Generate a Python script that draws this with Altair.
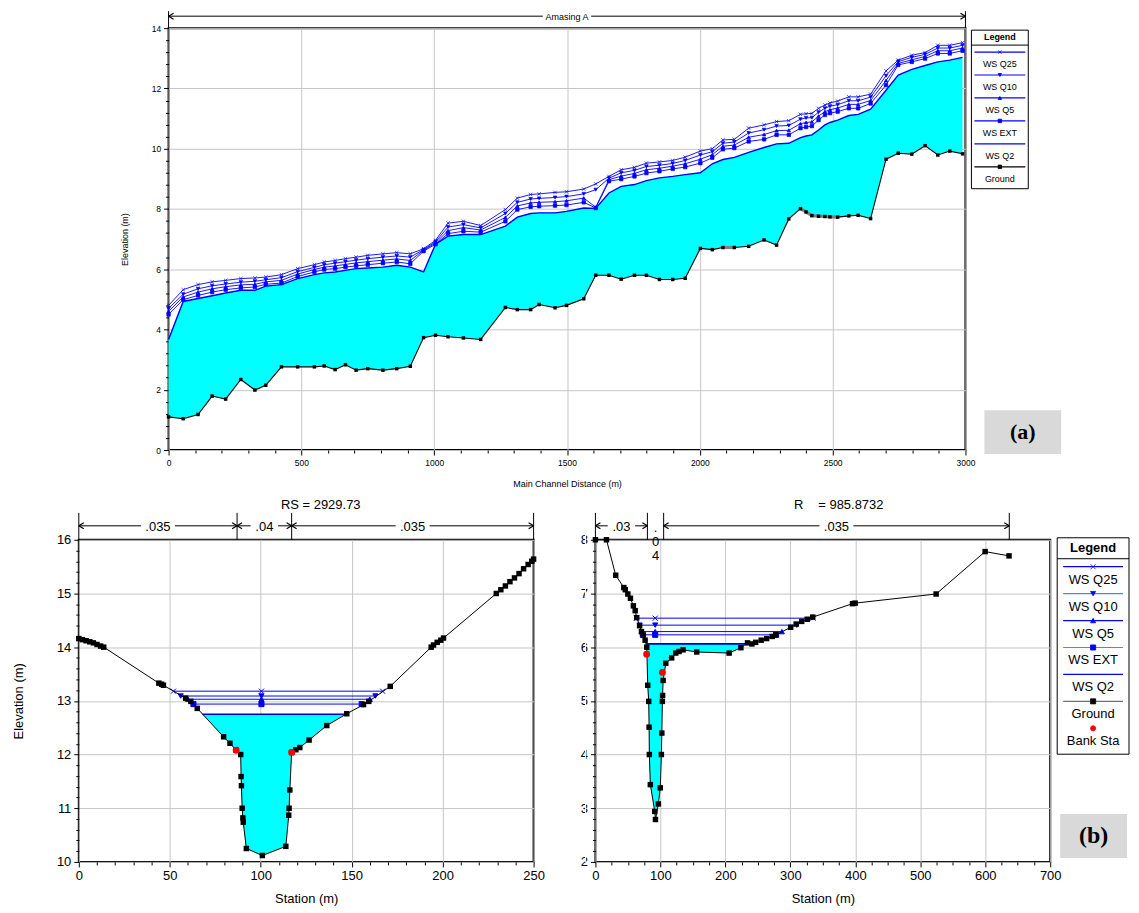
import altair as alt
import pandas as pd

# ============================ DATA ============================
PROFILES = ["WS Q25", "WS Q10", "WS Q5", "WS EXT", "WS Q2"]

# ---- (a) longitudinal profile "Amasing A" ----
PROFILE_TITLE = "Amasing A"
PROFILE_STATION = [0, 55, 111, 164, 215, 272, 325, 366, 425, 486,
                   549, 586, 627, 666, 706, 750, 807, 859, 910, 960,
                   1005, 1052, 1110, 1175, 1268, 1313, 1363, 1395, 1455, 1498,
                   1563, 1608, 1658, 1704, 1754, 1799, 1848, 1898, 1945, 2002,
                   2047, 2087, 2130, 2184, 2242, 2289, 2335, 2379, 2400, 2422,
                   2447, 2471, 2490, 2519, 2561, 2596, 2643, 2701, 2747, 2798,
                   2848, 2896, 2941, 2989]
PROFILE_GROUND = [1.10, 1.04, 1.18, 1.79, 1.69, 2.34, 1.99, 2.15, 2.76, 2.76,
                  2.76, 2.79, 2.67, 2.83, 2.65, 2.70, 2.65, 2.70, 2.78, 3.73,
                  3.81, 3.76, 3.72, 3.67, 4.73, 4.66, 4.66, 4.83, 4.72, 4.80,
                  5.02, 5.80, 5.80, 5.67, 5.80, 5.80, 5.66, 5.66, 5.70, 6.69,
                  6.65, 6.72, 6.72, 6.76, 6.97, 6.80, 7.67, 8.01, 7.90, 7.78,
                  7.76, 7.75, 7.74, 7.73, 7.77, 7.79, 7.68, 9.65, 9.85, 9.82,
                  10.10, 9.79, 9.92, 9.83]
PROFILE_WS_Q2 = [3.67, 4.93, 5.03, 5.12, 5.21, 5.30, 5.30, 5.44, 5.49, 5.69,
                 5.82, 5.88, 5.91, 5.96, 6.02, 6.04, 6.07, 6.13, 6.07, 5.91,
                 6.83, 7.10, 7.15, 7.15, 7.43, 7.73, 7.85, 7.87, 7.87, 7.92,
                 8.03, 8.02, 8.53, 8.75, 8.81, 8.94, 9.03, 9.08, 9.14, 9.20,
                 9.50, 9.64, 9.71, 9.88, 10.04, 10.16, 10.18, 10.37, 10.42, 10.46,
                 10.62, 10.79, 10.87, 10.95, 11.10, 11.14, 11.31, 11.94, 12.44, 12.63,
                 12.76, 12.88, 12.94, 13.03]
PROFILE_WS_EXT = [4.50, 4.99, 5.13, 5.24, 5.32, 5.38, 5.41, 5.50, 5.54, 5.76,
                  5.91, 5.99, 6.02, 6.07, 6.11, 6.15, 6.20, 6.24, 6.18, 6.60,
                  6.83, 7.18, 7.26, 7.23, 7.59, 7.98, 8.07, 8.09, 8.11, 8.13,
                  8.22, 8.03, 8.92, 8.99, 9.08, 9.19, 9.25, 9.33, 9.39, 9.52,
                  9.70, 9.98, 10.02, 10.24, 10.31, 10.46, 10.46, 10.68, 10.72, 10.75,
                  10.95, 11.12, 11.18, 11.23, 11.34, 11.34, 11.50, 12.11, 12.78, 12.88,
                  12.99, 13.16, 13.16, 13.25]
PROFILE_WS_Q5 = [4.60, 5.08, 5.24, 5.35, 5.42, 5.48, 5.50, 5.58, 5.63, 5.84,
                 5.99, 6.07, 6.11, 6.16, 6.21, 6.25, 6.30, 6.34, 6.29, 6.63,
                 6.87, 7.28, 7.38, 7.30, 7.72, 8.10, 8.20, 8.22, 8.24, 8.27,
                 8.36, 8.06, 8.97, 9.09, 9.18, 9.30, 9.35, 9.42, 9.50, 9.65,
                 9.80, 10.08, 10.12, 10.38, 10.47, 10.60, 10.61, 10.83, 10.87, 10.89,
                 11.08, 11.23, 11.29, 11.35, 11.47, 11.47, 11.60, 12.26, 12.83, 12.95,
                 13.06, 13.25, 13.25, 13.34]
PROFILE_WS_Q10 = [4.70, 5.17, 5.35, 5.45, 5.51, 5.57, 5.60, 5.65, 5.72, 5.92,
                  6.06, 6.15, 6.20, 6.25, 6.30, 6.35, 6.40, 6.44, 6.40, 6.65,
                  6.91, 7.40, 7.48, 7.37, 7.85, 8.22, 8.33, 8.35, 8.38, 8.41,
                  8.50, 8.64, 9.02, 9.20, 9.28, 9.41, 9.45, 9.51, 9.61, 9.79,
                  9.90, 10.18, 10.22, 10.52, 10.63, 10.75, 10.77, 10.98, 11.02, 11.03,
                  11.21, 11.34, 11.41, 11.46, 11.59, 11.59, 11.71, 12.42, 12.89, 13.03,
                  13.13, 13.34, 13.34, 13.43]
PROFILE_WS_Q25 = [4.80, 5.32, 5.49, 5.58, 5.63, 5.69, 5.71, 5.74, 5.82, 6.02,
                  6.15, 6.24, 6.29, 6.35, 6.40, 6.46, 6.51, 6.55, 6.51, 6.68,
                  6.96, 7.53, 7.59, 7.45, 7.98, 8.36, 8.48, 8.50, 8.55, 8.57,
                  8.66, 8.83, 9.08, 9.30, 9.38, 9.52, 9.56, 9.61, 9.72, 9.92,
                  10.00, 10.29, 10.31, 10.68, 10.79, 10.90, 10.93, 11.14, 11.16, 11.17,
                  11.34, 11.45, 11.52, 11.58, 11.72, 11.72, 11.81, 12.58, 12.94, 13.10,
                  13.19, 13.43, 13.43, 13.52]
PROFILE_GREY_RANGES = [(2087, 2130), (2379, 2519)]

# ---- (b) left cross section ----
XS1_LABEL = "RS = 2929.73"
XS1_STATION = [0, 2, 4, 6, 8, 10, 12, 13.7, 44.0, 45.5, 46.5, 58.7, 61.6, 65.1,
               79.6, 83.1, 86.5, 89.0, 89.2, 89.4, 89.8, 90.2, 90.4, 92.1, 100.9,
               113.8, 115.4, 115.6, 116.0, 117.0, 119.3, 121.5, 126.6, 136.3, 147.3,
               156.5, 159.4, 171.2, 193.7, 195.0, 197.0, 199.0, 200.5,
               229.5, 232.0, 234.5, 237.0, 239.5, 242.0, 244.5, 247.0, 249.0, 250.0]
XS1_ELEV = [14.16, 14.14, 14.12, 14.10, 14.08, 14.05, 14.02, 14.00, 13.33, 13.31, 13.29, 13.05, 12.99, 12.86,
            12.33, 12.21, 12.08, 12.00, 11.59, 11.42, 11.00, 10.82, 10.74, 10.25, 10.12,
            10.29, 10.87, 11.00, 11.34, 12.04, 12.09, 12.13, 12.27, 12.54, 12.76,
            12.93, 12.99, 13.27, 14.00, 14.04, 14.09, 14.13, 14.17,
            15.00, 15.07, 15.14, 15.22, 15.29, 15.37, 15.46, 15.54, 15.60, 15.64]
XS1_WS_LEVEL = [13.18, 13.09, 13.03, 12.94, 12.75]
XS1_WS_LEFT = [52, 56, 60, 63, 68]
XS1_WS_RIGHT = [167, 163, 160, 155.5, 147]
XS1_WS_MID = 100.4
XS1_BANK_STA = [86.5, 117.0]
XS1_BANK_ELEV = [12.08, 12.04]
XS1_N_BOUNDS = [0, 87, 117, 250]
XS1_N_VALUES = [".035", ".04", ".035"]

# ---- (b) right cross section ----
XS2_LABEL_A = "R"
XS2_LABEL_B = "= 985.8732"
XS2_STATION = [0, 17, 31.2, 43.7, 46, 49.9, 53.9, 58.4, 61.2, 63.5,
               68.0, 70.9, 73.7, 76.5, 79.0, 80.5, 82.0, 82.6, 83.0, 84.5,
               91.3, 92.4, 96.9, 99.8, 101.5, 102.2, 103.0, 103.4, 104.2, 108.3,
               117.3, 123.6, 128.7, 134.9, 155.9, 205.8, 223.9, 234.1, 240.9, 246.6,
               255.1, 263.6, 272.1, 277.8, 300.5, 309.0, 317.5, 326.0, 334.5, 395.7,
               399.7, 524.4, 599.8, 636.6]
XS2_ELEV = [8.00, 8.00, 7.34, 7.11, 7.07, 6.99, 6.91, 6.77, 6.68, 6.55,
            6.40, 6.29, 6.22, 6.13, 6.00, 5.29, 4.99, 4.51, 4.00, 3.44,
            2.94, 2.79, 3.08, 3.38, 4.00, 4.40, 4.99, 5.10, 5.38, 5.70,
            5.80, 5.89, 5.92, 5.95, 5.91, 5.89, 5.99, 6.08, 6.06, 6.09,
            6.13, 6.16, 6.20, 6.23, 6.37, 6.43, 6.48, 6.52, 6.56, 6.81,
            6.82, 6.99, 7.78, 7.70]
XS2_WS_LEVEL = [6.54, 6.41, 6.29, 6.23, 6.06]
XS2_WS_LEFT = [63, 68, 71, 73, 78]
XS2_WS_RIGHT = [335, 310, 287, 278, 241]
XS2_WS_MID = 92
XS2_BANK_STA = [78.8, 103.2]
XS2_BANK_ELEV = [5.87, 5.53]
XS2_N_BOUNDS = [0, 80, 105, 637]
XS2_N_VALUES = [".03", ".04", ".035"]

# ============================ STYLE ============================
FONT = "Liberation Sans"
SERIF = "Liberation Serif"
BLUE = "#0000ff"
PALE_BLUE = "#5b7cff"
CYAN = "#00ffff"
GRID = "#c6c6c6"
GREY = "#808080"
X_PATH = "M-1,-1L1,1M-1,1L1,-1"
ARROW_L = "M0,0L1,-0.6M0,0L1,0.6"
ARROW_R = "M0,0L-1,-0.6M0,0L-1,0.6"
PROFILE_SHAPES = [X_PATH, "triangle-down", "triangle-up", "square", ""]


def major_axis(orient, values, title, label_fs, title_fs, title_pad, tick=5, label_pad=3):
    return alt.Axis(orient=orient, values=values, title=title, format="d", grid=True, gridColor=GRID,
                    gridWidth=1, domain=False, ticks=True, tickSize=tick, tickColor="black",
                    tickWidth=1, labelFontSize=label_fs, labelColor="black", labelFont=FONT,
                    labelPadding=label_pad, labelFlush=False, labelOverlap=False,
                    titleFontSize=title_fs, titleFont=FONT, titleFontWeight="normal",
                    titleColor="black", titlePadding=title_pad)


def minor_axis(orient, values, tick=3):
    return alt.Axis(orient=orient, values=values, title=None, labels=False, grid=False,
                    domain=False, ticks=True, tickSize=tick, tickColor="black", tickWidth=1)


def px(f):
    return alt.X(f, scale=None, axis=None)


def py(f):
    return alt.Y(f, scale=None, axis=None)


def frange(a, b, step, skip):
    out, v = [], a
    while v <= b + 1e-9:
        r = round(v, 3)
        if all(abs(r - s) > 1e-6 for s in skip):
            out.append(r)
        v += step
    return out


def pin_layer(x, y0, y1):
    df = pd.DataFrame({"x": [x], "y": [y0], "y2": [y1]})
    return alt.Chart(df).mark_rule(color="white", strokeWidth=1).encode(
        x=px("x:Q"), y=py("y:Q"), y2="y2:Q")


def span_layers(bounds, labels, xs, ys, y_base, y_bar, y_arrow, ppu, fs, stack_y=None):
    bars = pd.DataFrame({"x": bounds, "y": [y_base] * len(bounds), "y2": [y_bar] * len(bounds)})
    segs, heads, texts, stacks = [], [], [], []
    for i, lab in enumerate(labels):
        a, b = bounds[i], bounds[i + 1]
        c = (a + b) / 2
        half_px = 0.25 * fs * len(lab) + 4
        if (b - a) * ppu > 2 * half_px + 12:
            h = half_px / ppu
            segs += [{"x": a, "x2": c - h, "y": y_arrow}, {"x": c + h, "x2": b, "y": y_arrow}]
            heads += [{"x": a, "y": y_arrow, "shape": ARROW_L}, {"x": b, "y": y_arrow, "shape": ARROW_R}]
            texts.append({"x": c, "y": y_arrow, "t": lab})
        else:
            stacks.append({"x": c, "y": stack_y, "t": "\n".join(lab)})
    X = lambda f: alt.X(f, scale=xs, axis=None)
    Y = lambda f: alt.Y(f, scale=ys, axis=None)
    layers = [
        alt.Chart(bars).mark_rule(color="black", strokeWidth=1).encode(x=X("x:Q"), y=Y("y:Q"), y2="y2:Q"),
        alt.Chart(pd.DataFrame(segs)).mark_rule(color="black", strokeWidth=1).encode(
            x=X("x:Q"), x2="x2:Q", y=Y("y:Q")),
        alt.Chart(pd.DataFrame(heads)).mark_point(filled=False, size=100, strokeWidth=1.2, opacity=1,
                                                  color="black").encode(
            x=X("x:Q"), y=Y("y:Q"), shape=alt.Shape("shape:N", scale=None)),
        alt.Chart(pd.DataFrame(texts)).mark_text(font=FONT, fontSize=fs, color="black", dy=1,
                                                 baseline="middle").encode(
            x=X("x:Q"), y=Y("y:Q"), text="t:N"),
    ]
    if stacks:
        layers.append(alt.Chart(pd.DataFrame(stacks)).mark_text(
            font=FONT, fontSize=fs, color="black", baseline="top", lineBreak="\n", lineHeight=14).encode(
            x=X("x:Q"), y=Y("y:Q"), text="t:N"))
    return layers


def legend_layers(names, line_cols, shapes, mcols, box, header_y, sep_y, row0, step, text_dy, fs,
                  line_x, msize):
    x0, y0, x1, y1 = box
    cx = (x0 + x1) / 2
    n = len(names)
    rows = pd.DataFrame({"name": names,
                         "ly": [row0 + step * i for i in range(n)],
                         "ty": [row0 + step * i + text_dy for i in range(n)],
                         "lcol": line_cols, "shape": shapes, "mcol": mcols,
                         "cx": cx, "lx0": line_x[0], "lx1": line_x[1]})
    bdf = pd.DataFrame({"x0": [x0], "x1": [x1], "y0": [y0], "y1": [y1], "sep": [sep_y],
                        "hy": [header_y], "cx": [cx], "t": ["Legend"]})
    return [
        alt.Chart(bdf).mark_rect(fill="white", stroke="black", strokeWidth=1).encode(
            x=px("x0:Q"), x2="x1:Q", y=py("y0:Q"), y2="y1:Q"),
        alt.Chart(bdf).mark_rule(color="black", strokeWidth=1).encode(
            x=px("x0:Q"), x2="x1:Q", y=py("sep:Q")),
        alt.Chart(bdf).mark_text(font=FONT, fontSize=fs, fontWeight="bold", color="black").encode(
            x=px("cx:Q"), y=py("hy:Q"), text="t:N"),
        alt.Chart(rows[rows["lcol"] != ""]).mark_rule(strokeWidth=1.2).encode(
            x=px("lx0:Q"), x2="lx1:Q", y=py("ly:Q"), color=alt.Color("lcol:N", scale=None)),
        alt.Chart(rows[rows["shape"] != ""]).mark_point(filled=True, size=msize, strokeWidth=0.8,
                                                        opacity=1).encode(
            x=px("cx:Q"), y=py("ly:Q"), shape=alt.Shape("shape:N", scale=None),
            color=alt.Color("mcol:N", scale=None), stroke=alt.Stroke("mcol:N", scale=None)),
        alt.Chart(rows).mark_text(font=FONT, fontSize=fs, color="black").encode(
            x=px("cx:Q"), y=py("ty:Q"), text="name:N"),
    ]


def tag_layers(text, box, fs):
    x0, y0, x1, y1 = box
    df = pd.DataFrame({"x0": [x0], "x1": [x1], "y0": [y0], "y1": [y1],
                       "cx": [(x0 + x1) / 2], "cy": [(y0 + y1) / 2], "t": [text]})
    return [
        alt.Chart(df).mark_rect(fill="#d9d9d9").encode(x=px("x0:Q"), x2="x1:Q", y=py("y0:Q"), y2="y1:Q"),
        alt.Chart(df).mark_text(font=SERIF, fontSize=fs, fontWeight="bold", color="black",
                                baseline="middle").encode(x=px("cx:Q"), y=py("cy:Q"), text="t:N"),
    ]


# ============================ (a) PROFILE ============================
W_TOP, H_TOP = 799, 423
xs_top = alt.Scale(domain=[0, 3000], nice=False, zero=False)
ys_top = alt.Scale(domain=[0, 14], nice=False, zero=False)
ppu_top = W_TOP / 3000
ppv_top = H_TOP / 14

prof = pd.DataFrame({"station": PROFILE_STATION, "ground": PROFILE_GROUND, "q2": PROFILE_WS_Q2})
ws_series = [PROFILE_WS_Q25, PROFILE_WS_Q10, PROFILE_WS_Q5, PROFILE_WS_EXT, PROFILE_WS_Q2]
ws_long = pd.concat([pd.DataFrame({"station": PROFILE_STATION, "elev": v, "profile": p, "shape": s})
                     for p, v, s in zip(PROFILES, ws_series, PROFILE_SHAPES)], ignore_index=True)
ws_upper = ws_long[ws_long["profile"] != "WS Q2"]
grey = pd.concat([prof[(prof.station >= a) & (prof.station <= b)].assign(seg=i)
                  for i, (a, b) in enumerate(PROFILE_GREY_RANGES)], ignore_index=True)

TX = lambda f: alt.X(f, scale=xs_top, axis=None)
TY = lambda f: alt.Y(f, scale=ys_top, axis=None)

top_layers = [
    alt.Chart(prof).mark_area(color=CYAN, opacity=1).encode(
        x=alt.X("station:Q", scale=xs_top,
                axis=major_axis("bottom", list(range(0, 3001, 500)), "Main Channel Distance (m)",
                                8.5, 9, 12, tick=5, label_pad=4)),
        y=alt.Y("ground:Q", scale=ys_top,
                axis=major_axis("left", list(range(0, 15, 2)), "Elevation (m)", 8.5, 9, 22, tick=5)),
        y2="q2:Q"),
    alt.Chart(ws_upper).mark_line(color=BLUE, strokeWidth=0.9).encode(
        x=TX("station:Q"), y=TY("elev:Q"), detail="profile:N"),
    alt.Chart(prof).mark_line(color=BLUE, strokeWidth=1.4).encode(x=TX("station:Q"), y=TY("q2:Q")),
    alt.Chart(ws_upper).mark_point(filled=True, size=12, strokeWidth=0.7, opacity=1, color=BLUE,
                                   stroke=BLUE).encode(
        x=TX("station:Q"), y=TY("elev:Q"), shape=alt.Shape("shape:N", scale=None)),
    alt.Chart(prof).mark_line(color="black", strokeWidth=1.1).encode(x=TX("station:Q"), y=TY("ground:Q")),
    alt.Chart(grey).mark_line(color=GREY, strokeWidth=3.2).encode(
        x=TX("station:Q"), y=TY("ground:Q"), detail="seg:N"),
    alt.Chart(prof).mark_point(filled=True, shape="square", size=12, color="black", opacity=1).encode(
        x=TX("station:Q"), y=TY("ground:Q")),
]
top_layers += span_layers([0, 3000], [PROFILE_TITLE], xs_top, ys_top, 14, 14 + 17 / ppv_top,
                          14 + 12 / ppv_top, ppu_top, 9)
top_layers += legend_layers(PROFILES + ["Ground"], [BLUE] * 5 + ["black"],
                            PROFILE_SHAPES + ["square"], [BLUE] * 5 + ["black"],
                            (805, 2, 862, 161), 9, 17, 24, 23, 12, 9, (808, 859), 12)
top_layers += tag_layers("(a)", (818, 383, 895, 427), 22)
top_layers.append(pin_layer(-30, H_TOP + 12, H_TOP + 42))
top_layers.append(alt.Chart(prof).mark_point(opacity=0).encode(
    x=alt.X("station:Q", scale=xs_top, axis=minor_axis("bottom", frange(0, 3000, 100, range(0, 3001, 500)))),
    y=alt.Y("ground:Q", scale=ys_top, axis=minor_axis("left", frange(0, 14, 0.4, range(0, 15, 2))))))

top_chart = alt.layer(*top_layers).resolve_axis(x="independent", y="independent").properties(
    width=W_TOP, height=H_TOP)

spacer = alt.Chart(pd.DataFrame({"v": [0]})).mark_point(opacity=0).encode(
    x=alt.X("v:Q", axis=None), y=alt.Y("v:Q", axis=None)).properties(
    width=90, height=H_TOP, view=alt.ViewBackground(stroke="transparent"))

# ============================ (b) CROSS SECTIONS ============================
W_XS, H_XS = 456, 323


def cross_section(st, el, lv, lf, rt, mid, bst, bel, nb, nv, rs_items, xdom, ydom,
                  xmajor, xminor, ymajor, yminor, ytitle, extra, pin_x):
    xs = alt.Scale(domain=xdom, nice=False, zero=False)
    ys = alt.Scale(domain=ydom, nice=False, zero=False)
    ppu = W_XS / (xdom[1] - xdom[0])
    ppv = H_XS / (ydom[1] - ydom[0])
    X = lambda f: alt.X(f, scale=xs, axis=None)
    Y = lambda f: alt.Y(f, scale=ys, axis=None)
    ground = pd.DataFrame({"station": st, "elev": el})
    q2, l2, r2 = lv[-1], lf[-1], rt[-1]
    wet = ground[(ground.station > l2) & (ground.station < r2)]
    fill = pd.concat([pd.DataFrame({"station": [l2], "elev": [q2]}), wet,
                      pd.DataFrame({"station": [r2], "elev": [q2]})], ignore_index=True)
    fill["ws"] = q2
    ws = pd.DataFrame({"profile": PROFILES, "level": lv, "left": lf, "right": rt, "shape": PROFILE_SHAPES})
    marks = pd.concat([pd.DataFrame({"station": [r["left"], mid, r["right"]], "elev": r["level"],
                                     "shape": r["shape"]})
                       for _, r in ws[ws["shape"] != ""].iterrows()], ignore_index=True)
    banks = pd.DataFrame({"station": bst, "elev": bel})
    yl = major_axis("left", ymajor, ytitle, 13, 13, 31, tick=5)
    layers = [
        alt.Chart(fill).mark_area(color=CYAN, opacity=1).encode(
            x=alt.X("station:Q", scale=xs, axis=major_axis("bottom", xmajor, "Station (m)", 13, 13, 10, tick=5)),
            y=alt.Y("elev:Q", scale=ys, axis=yl), y2="ws:Q"),
        alt.Chart(ws[ws["profile"] != "WS Q2"]).mark_rule(color=BLUE, strokeWidth=1).encode(
            x=X("left:Q"), x2="right:Q", y=Y("level:Q")),
        alt.Chart(ws[ws["profile"] == "WS Q2"]).mark_rule(color="#0000d0", strokeWidth=1.7).encode(
            x=X("left:Q"), x2="right:Q", y=Y("level:Q")),
        alt.Chart(marks).mark_point(filled=True, size=26, strokeWidth=1, opacity=1, color=BLUE,
                                    stroke=BLUE).encode(
            x=X("station:Q"), y=Y("elev:Q"), shape=alt.Shape("shape:N", scale=None)),
        alt.Chart(ground).mark_line(color="black", strokeWidth=1).encode(x=X("station:Q"), y=Y("elev:Q")),
        alt.Chart(ground).mark_point(filled=True, shape="square", size=30, color="black", opacity=1).encode(
            x=X("station:Q"), y=Y("elev:Q")),
        alt.Chart(banks).mark_point(filled=True, shape="circle", size=48, color="#ff0000", opacity=1).encode(
            x=X("station:Q"), y=Y("elev:Q")),
    ]
    layers += span_layers(nb, nv, xs, ys, ydom[1], ydom[1] + 27 / ppv, ydom[1] + 14 / ppv, ppu, 13,
                          stack_y=ydom[1] + 18 / ppv)
    for (x, t, align) in rs_items:
        layers.append(alt.Chart(pd.DataFrame({"x": [x], "y": [ydom[1] + 35 / ppv], "t": [t]})).mark_text(
            font=FONT, fontSize=13, color="black", align=align, baseline="middle").encode(
            x=X("x:Q"), y=Y("y:Q"), text="t:N"))
    layers += extra
    layers.append(pin_layer(pin_x, -44, H_XS))
    layers.append(alt.Chart(ground).mark_point(opacity=0).encode(
        x=alt.X("station:Q", scale=xs, axis=minor_axis("bottom", xminor)),
        y=alt.Y("elev:Q", scale=ys, axis=minor_axis("left", yminor))))
    return alt.layer(*layers).resolve_axis(x="independent", y="independent").properties(
        width=W_XS, height=H_XS)


xs1 = cross_section(XS1_STATION, XS1_ELEV, XS1_WS_LEVEL, XS1_WS_LEFT, XS1_WS_RIGHT, XS1_WS_MID,
                    XS1_BANK_STA, XS1_BANK_ELEV, XS1_N_BOUNDS, XS1_N_VALUES,
                    [(133, XS1_LABEL, "center")], [0, 250], [10, 16],
                    list(range(0, 251, 50)), frange(0, 250, 10, range(0, 251, 50)),
                    list(range(10, 17)), frange(10, 16, 0.2, range(10, 17)),
                    "Elevation (m)", [], -69)

legend2 = legend_layers(PROFILES + ["Ground", "Bank Sta"],
                        [BLUE, PALE_BLUE, BLUE, PALE_BLUE, BLUE, "#707070", ""],
                        PROFILE_SHAPES + ["square", "circle"],
                        [BLUE] * 5 + ["black", "#ff0000"],
                        (463, -2, 535, 215), 8, 19, 27, 27, 13, 13, (469, 529), 26)
legend2 += tag_layers("(b)", (466, 275, 533, 319), 24)

xs2 = cross_section(XS2_STATION, XS2_ELEV, XS2_WS_LEVEL, XS2_WS_LEFT, XS2_WS_RIGHT, XS2_WS_MID,
                    XS2_BANK_STA, XS2_BANK_ELEV, XS2_N_BOUNDS, XS2_N_VALUES,
                    [(313, XS2_LABEL_A, "center"), (343, XS2_LABEL_B, "left")], [0, 700], [2, 8],
                    list(range(0, 701, 100)), frange(0, 700, 25, range(0, 701, 100)),
                    list(range(2, 9)), frange(2, 8, 0.2, range(2, 9)),
                    None, legend2, -10)

row1 = alt.hconcat(spacer, top_chart, spacing=0, bounds="flush")
row2 = alt.hconcat(xs1, xs2, spacing=62, bounds="flush")
chart = alt.vconcat(row1, row2, spacing=0,
                    padding={"left": 0, "top": 0, "right": 0, "bottom": 0}).configure(
    font=FONT).configure_view(stroke="black", strokeWidth=2)

chart.save("out.html", embed_options={"renderer": "svg", "actions": False})
